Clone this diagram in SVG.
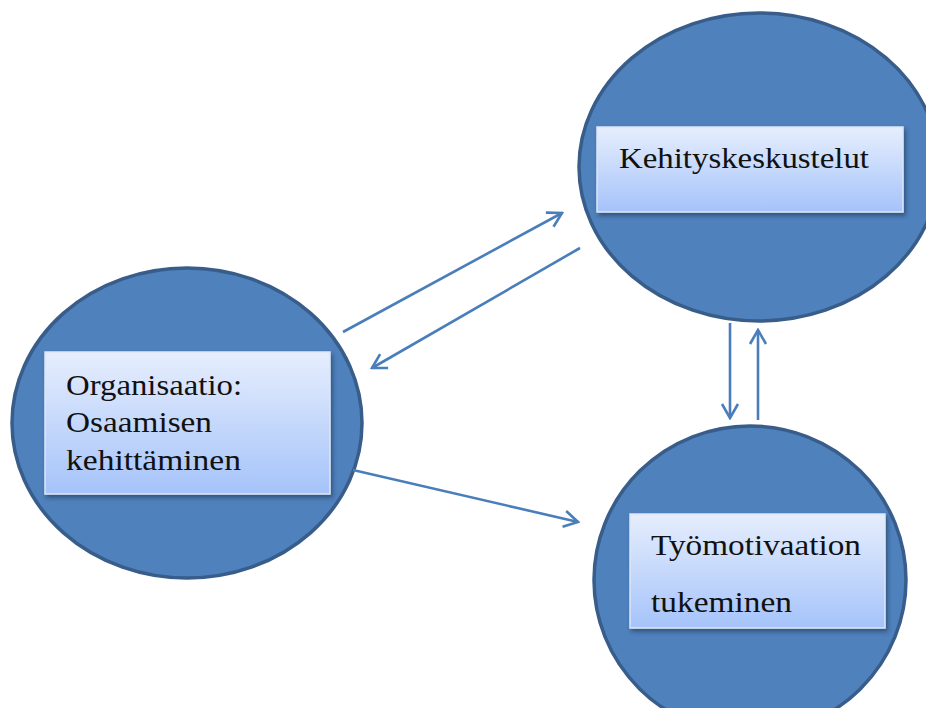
<svg xmlns="http://www.w3.org/2000/svg" width="926" height="708" viewBox="0 0 926 708">
<defs>
<linearGradient id="boxg" x1="0" y1="0" x2="0" y2="1">
<stop offset="0" stop-color="#E6EEFD"/>
<stop offset="1" stop-color="#A5C3FA"/>
</linearGradient>
<filter id="sh" x="-10%" y="-10%" width="120%" height="130%">
<feDropShadow dx="2" dy="3" stdDeviation="2" flood-color="#1f3550" flood-opacity="0.6"/>
</filter>
<marker id="arr" viewBox="0 0 20 20" refX="18" refY="10" markerWidth="20" markerHeight="20" markerUnits="userSpaceOnUse" orient="auto">
<path d="M4,2 L18,10 L4,18" fill="none" stroke="#4A7EBB" stroke-width="2.6"/>
</marker>
</defs>
<style>
.circ{fill:#4F81BD;stroke:#385D8A;stroke-width:3.5}
.box{fill:url(#boxg);stroke:#DCE6F7;stroke-width:1.5;filter:url(#sh)}
.lbl{font-family:"Liberation Serif",serif;font-size:30px;fill:#111}
.con{stroke:#4A7EBB;stroke-width:2.6;fill:none;marker-end:url(#arr)}
</style>
<rect width="926" height="708" fill="#fff"/>
<g id="kehityskeskustelut">
<ellipse class="circ" cx="759" cy="167" rx="180" ry="154"/>
<rect class="box" x="597" y="127" width="306" height="85"/>
<text class="lbl" x="619" y="168" textLength="250" lengthAdjust="spacingAndGlyphs">Kehityskeskustelut</text>
</g>
<g id="organisaatio">
<ellipse class="circ" cx="187" cy="423" rx="175" ry="155"/>
<rect class="box" x="45" y="352" width="285" height="142"/>
<text class="lbl" x="66" y="395" textLength="176" lengthAdjust="spacingAndGlyphs">Organisaatio:</text>
<text class="lbl" x="66" y="432" textLength="146" lengthAdjust="spacingAndGlyphs">Osaamisen</text>
<text class="lbl" x="66" y="470" textLength="175" lengthAdjust="spacingAndGlyphs">kehittäminen</text>
</g>
<g id="tyomotivaatio">
<ellipse class="circ" cx="750" cy="580" rx="156" ry="154"/>
<rect class="box" x="630" y="514" width="255" height="114"/>
<text class="lbl" x="651" y="555" textLength="210" lengthAdjust="spacingAndGlyphs">Työmotivaation</text>
<text class="lbl" x="651" y="612" textLength="141" lengthAdjust="spacingAndGlyphs">tukeminen</text>
</g>
<g id="connectors">
<line class="con" x1="343" y1="332" x2="562" y2="213"/>
<line class="con" x1="580" y1="248" x2="372" y2="368"/>
<line class="con" x1="353" y1="470" x2="578" y2="522"/>
<line class="con" x1="730" y1="323" x2="730" y2="418"/>
<line class="con" x1="758" y1="420" x2="758" y2="330"/>
</g>
</svg>
